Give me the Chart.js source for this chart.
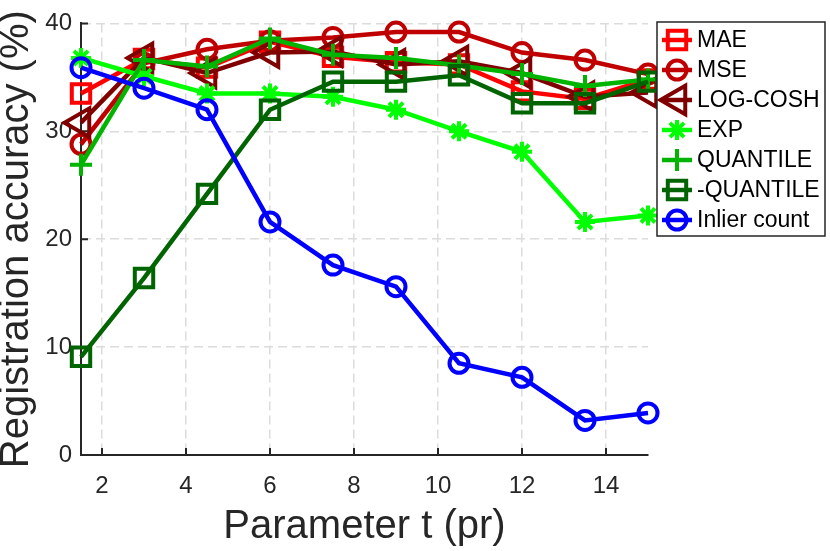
<!DOCTYPE html>
<html>
<head>
<meta charset="utf-8">
<title>Registration accuracy vs parameter t</title>
<script src="https://cdn.jsdelivr.net/npm/chart.js"></script>
<style>
  html, body { margin: 0; padding: 0; background: #ffffff; }
  #wrap { width: 830px; height: 551px; }
</style>
</head>
<body>
<div id="wrap"><canvas id="accChart" width="830" height="551"></canvas></div>
<script>
// values
var paramT = [1.5, 3, 4.5, 6, 7.5, 9, 10.5, 12, 13.5, 15];
var xTicks = [2, 4, 6, 8, 10, 12, 14];
var yTicks = [0, 10, 20, 30, 40];

var maeAcc = [33.5, 36.7, 35.9, 38.3, 36.9, 36.4, 36.2, 33.7, 33.0, 34.8];
var mseAcc = [28.8, 36.3, 37.6, 38.4, 38.7, 39.2, 39.2, 37.3, 36.6, 35.3];
var logCoshAcc = [30.8, 36.8, 35.4, 37.3, 37.4, 36.2, 36.5, 35.4, 33.2, 33.6];
var expAcc = [36.8, 35.1, 33.5, 33.5, 33.2, 32.0, 30.0, 28.1, 21.6, 22.2];
var quantileAcc = [26.9, 36.6, 36.0, 38.6, 37.1, 36.8, 36.1, 35.3, 34.2, 34.8];
var negQuantileAcc = [9.1, 16.4, 24.2, 32.0, 34.6, 34.6, 35.2, 32.6, 32.6, 34.6];
var inlierAcc = [35.9, 34.0, 32.0, 21.6, 17.6, 15.6, 8.5, 7.2, 3.2, 3.9];

var seriesNames = ["MAE", "MSE", "LOG-COSH", "EXP", "QUANTILE", "-QUANTILE", "Inlier count"];
var seriesValues = [maeAcc, mseAcc, logCoshAcc, expAcc, quantileAcc, negQuantileAcc, inlierAcc];

// look of each series (matlab-ish markers)
var seriesStyle = [
  { color: "#ff0000", pointStyle: "rect", radius: 13, rotation: 0 },
  { color: "#c00000", pointStyle: "circle", radius: 9.5, rotation: 0 },
  { color: "#800000", pointStyle: "triangle", radius: 16.5, rotation: -90 },
  { color: "#00ff00", pointStyle: "star", radius: 10, rotation: 0 },
  { color: "#00b400", pointStyle: "cross", radius: 11, rotation: 0 },
  { color: "#006400", pointStyle: "rect", radius: 13, rotation: 0 },
  { color: "#0000ff", pointStyle: "circle", radius: 9.5, rotation: 0 },
];

var axisColor = "#262626";
var fontFamily = "'Liberation Sans', Arial, sans-serif";
var lineW = 4.5;
var markerW = 4;

var datasets = seriesNames.map(function (name, i) {
  var st = seriesStyle[i];
  return {
    label: name,
    data: paramT.map(function (t, j) {
      return { x: t, y: seriesValues[i][j] };
    }),
    borderColor: st.color,
    borderWidth: lineW,
    pointStyle: st.pointStyle,
    pointRadius: st.radius,
    pointHoverRadius: st.radius,
    pointRotation: st.rotation,
    pointBorderColor: st.color,
    pointBackgroundColor: "rgba(0,0,0,0)",
    pointBorderWidth: markerW,
    tension: 0,
    fill: false,
    clip: false,
    order: seriesNames.length - i, // later series drawn on top, like matlab
  };
});

// ticks pointing into the plot area
var inwardTicks = {
  id: "inwardTicks",
  beforeDatasetsDraw: function (chart) {
    var ctx = chart.ctx;
    var xs = chart.scales.x;
    var ys = chart.scales.y;
    var len = 7;
    ctx.save();
    ctx.strokeStyle = axisColor;
    ctx.lineWidth = 2;
    ctx.beginPath();
    xTicks.forEach(function (v) {
      var px = xs.getPixelForValue(v);
      ctx.moveTo(px, ys.bottom);
      ctx.lineTo(px, ys.bottom - len);
    });
    yTicks.forEach(function (v) {
      var py = ys.getPixelForValue(v);
      ctx.moveTo(xs.left, py);
      ctx.lineTo(xs.left + len, py);
    });
    ctx.stroke();
    ctx.restore();
  },
};

// legend box with line + marker samples, drawn over the data
var lineLegend = {
  id: "lineLegend",
  afterDraw: function (chart) {
    var ctx = chart.ctx;
    var box = { left: 657, top: 22, right: 825, bottom: 236 };
    ctx.save();
    ctx.fillStyle = "#ffffff";
    ctx.fillRect(box.left, box.top, box.right - box.left, box.bottom - box.top);
    ctx.strokeStyle = axisColor;
    ctx.lineWidth = 1.5;
    ctx.strokeRect(box.left, box.top, box.right - box.left, box.bottom - box.top);

    ctx.font = "23px " + fontFamily;
    ctx.textBaseline = "middle";
    ctx.textAlign = "left";
    chart.data.datasets.forEach(function (ds, i) {
      var y = 40 + i * 30;
      ctx.strokeStyle = ds.borderColor;
      ctx.lineWidth = lineW;
      ctx.beginPath();
      ctx.moveTo(662, y);
      ctx.lineTo(692, y);
      ctx.stroke();

      ctx.lineWidth = markerW;
      ctx.fillStyle = "rgba(0,0,0,0)";
      Chart.helpers.drawPoint(
        ctx,
        {
          pointStyle: ds.pointStyle,
          rotation: ds.pointRotation,
          radius: ds.pointRadius,
          borderWidth: markerW,
        },
        677,
        y
      );

      ctx.fillStyle = "#000000";
      ctx.fillText(ds.label, 697, y + 1);
    });
    ctx.restore();
  },
};

var ctx = document.getElementById("accChart").getContext("2d");
var accChart = new Chart(ctx, {
  type: "line",
  data: { datasets: datasets },
  plugins: [inwardTicks, lineLegend],
  options: {
    responsive: false,
    animation: false,
    events: [],
    layout: {
      padding: { left: 0, right: 182, top: 22, bottom: 0 },
    },
    plugins: {
      legend: { display: false },
      tooltip: { enabled: false },
    },
    scales: {
      x: {
        type: "linear",
        min: 1.5,
        max: 15,
        afterBuildTicks: function (scale) {
          scale.ticks = xTicks.map(function (v) {
            return { value: v };
          });
        },
        afterFit: function (scale) {
          scale.height = 96;
        },
        grid: {
          color: "#dcdcdc",
          lineWidth: 1.5,
          drawTicks: false,
        },
        border: {
          display: true,
          color: axisColor,
          width: 2,
          dash: [9, 5],
        },
        ticks: {
          color: axisColor,
          padding: 17,
          font: { family: fontFamily, size: 24 },
          callback: function (v) {
            return String(v);
          },
        },
        title: {
          display: true,
          text: "Parameter t (pr)",
          color: axisColor,
          padding: { top: 3, bottom: 0 },
          font: { family: fontFamily, size: 40 },
        },
      },
      y: {
        min: 0,
        max: 40,
        afterBuildTicks: function (scale) {
          scale.ticks = yTicks.map(function (v) {
            return { value: v };
          });
        },
        afterFit: function (scale) {
          scale.width = 81;
        },
        grid: {
          color: function (c) {
            return c.tick && c.tick.value === 0 ? "rgba(0,0,0,0)" : "#dcdcdc";
          },
          lineWidth: 1.5,
          drawTicks: false,
        },
        border: {
          display: true,
          color: axisColor,
          width: 2,
          dash: [9, 5],
        },
        ticks: {
          color: axisColor,
          padding: 9,
          font: { family: fontFamily, size: 24 },
        },
        title: {
          display: true,
          text: "Registration accuracy (%)",
          color: axisColor,
          padding: { top: -7, bottom: 0 },
          font: { family: fontFamily, size: 40 },
        },
      },
    },
  },
});
</script>
</body>
</html>
